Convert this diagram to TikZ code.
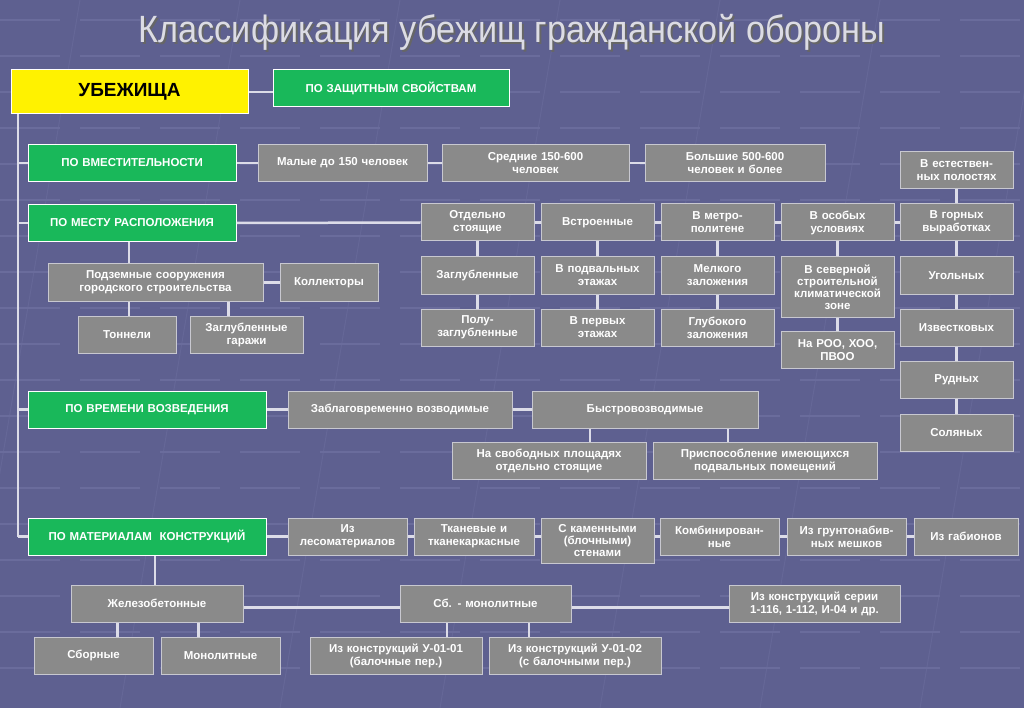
\documentclass[tikz,border=0pt]{standalone}
\usepackage{fontspec}
\setmainfont{Liberation Sans}
\definecolor{bgc}{HTML}{5E6090}
\definecolor{gridc}{HTML}{6A6C9C}
\definecolor{boxg}{HTML}{8A8A8A}
\definecolor{boxb}{HTML}{C8C8D0}
\definecolor{grn}{HTML}{19B85A}
\definecolor{linec}{HTML}{DCDCE8}
\definecolor{titc}{HTML}{DCDCE4}
\tikzset{
 gbox/.style={draw=boxb,fill=boxg,line width=1pt,text=white,font=\bfseries\fontsize{11.5}{13}\selectfont,align=center,inner sep=1pt,minimum height=37pt},
 grbox/.style={gbox,draw=white,fill=grn},
 conn/.style={draw=linec,line width=2.5pt},
}
\newcommand{\bx}[6][gbox]{\node[#1,minimum width=#5pt,text width=#5pt-4pt] (#2) at (#3,#4) {#6};}
\begin{document}
\begin{tikzpicture}[x=1pt,y=-1pt]
\fill[bgc] (0,0) rectangle (1024,708);
\useasboundingbox (0,0) rectangle (1024,708);
\foreach \yy in {20,56,...,700} \draw[gridc,line width=1.5pt,dash pattern=on 60pt off 20pt] (0,\yy) -- (1024,\yy);
\foreach \xx in {80,240,...,1100} \draw[gridc,line width=1pt,opacity=.6] (\xx,0) -- (\xx-120,708);
\node[text=black!60,xscale=0.9,font=\fontsize{38}{40}\selectfont] at (514,34) {Классификация убежищ гражданской обороны};
\node[text=titc,xscale=0.9,font=\fontsize{38}{40}\selectfont] (title) at (512,32) {Классификация убежищ гражданской обороны};
% nodes
\node[draw=white,fill=yellow,line width=1pt,minimum width=237pt,minimum height=44pt,font=\bfseries\fontsize{19}{21}\selectfont] (ubez) at (129.5,92) {УБЕЖИЩА};
\bx[grbox]{zash}{391}{88}{236}{ПО ЗАЩИТНЫМ СВОЙСТВАМ}
\bx[grbox]{vmest}{132}{163}{208}{ПО ВМЕСТИТЕЛЬНОСТИ}
\bx{maly}{342.5}{163}{169}{Малые до 150 человек}
\bx{sred}{535.5}{163}{187}{Средние 150-600\\человек}
\bx{bolsh}{735}{163}{180}{Большие 500-600\\человек и более}
\bx{estest}{956.5}{170.5}{113}{В естествен-\\ных полостях}
\bx[grbox]{mesto}{132}{223}{208}{ПО МЕСТУ РАСПОЛОЖЕНИЯ}
\bx{otd}{477.5}{222.5}{113}{Отдельно\\стоящие}
\bx{vstr}{597.5}{222.5}{113}{Встроенные}
\bx{metro}{717.5}{222.5}{113}{В метро-\\политене}
\bx{osob}{837.5}{222.5}{113}{В особых\\условиях}
\bx{gorn}{956.5}{222.5}{113}{В горных\\выработках}
\bx{zagl}{477.5}{275.5}{113}{Заглубленные}
\bx{podval}{597.5}{275.5}{113}{В подвальных\\этажах}
\bx{melk}{717.5}{275.5}{113}{Мелкого\\заложения}
\node[gbox,minimum width=113pt,text width=111pt,minimum height=60pt,font=\bfseries\fontsize{11.5}{12}\selectfont] (sever) at (837.5,287) {В северной\\строительной\\климатической\\зоне};
\bx{ugol}{956.5}{275.5}{113}{Угольных}
\bx{polu}{477.5}{327.5}{113}{Полу-\\заглубленные}
\bx{perv}{597.5}{327.5}{113}{В первых\\этажах}
\bx{glub}{717.5}{327.5}{113}{Глубокого\\заложения}
\bx{izv}{956.5}{327.5}{113}{Известковых}
\bx{naroo}{837.5}{350}{113}{На РОО, ХОО,\\ПВОО}
\bx{rudn}{956.5}{379.5}{113}{Рудных}
\bx{solyan}{956.5}{432.5}{113}{Соляных}
\bx{podzem}{155.5}{282.5}{215}{Подземные сооружения\\городского строительства}
\bx{koll}{329}{282.5}{98}{Коллекторы}
\bx{tonn}{127}{334.5}{98}{Тоннели}
\bx{garazh}{246.5}{334.5}{113}{Заглубленные\\гаражи}
\bx[grbox]{vremya}{147}{409.5}{238}{ПО ВРЕМЕНИ ВОЗВЕДЕНИЯ}
\bx{zablag}{400}{409.5}{224}{Заблаговременно возводимые}
\bx{bystro}{645}{409.5}{226}{Быстровозводимые}
\bx{svob}{549}{460.5}{194}{На свободных площадях\\отдельно стоящие}
\bx{prisp}{765}{460.5}{224}{Приспособление имеющихся\\подвальных помещений}
\bx[grbox]{mater}{147}{536.5}{238}{ПО МАТЕРИАЛАМ\ \ КОНСТРУКЦИЙ}
\bx{lesom}{347.5}{536.5}{119}{Из\\лесоматериалов}
\bx{tkan}{474}{536.5}{120}{Тканевые и\\тканекаркасные}
\node[gbox,minimum width=113pt,text width=111pt,minimum height=45pt,font=\bfseries\fontsize{11.5}{12}\selectfont] (kamen) at (597.5,540.5) {С каменными\\(блочными)\\стенами};
\bx{komb}{719.5}{536.5}{119}{Комбинирован-\\ные}
\bx{grunt}{846.5}{536.5}{119}{Из грунтонабив-\\ных мешков}
\bx{gabion}{966}{536.5}{104}{Из габионов}
\bx{zhel}{157}{603.5}{172}{Железобетонные}
\bx{sbmon}{485.5}{603.5}{171}{Сб. - монолитные}
\bx{seriya}{814.5}{603.5}{171}{Из конструкций серии\\1-116, 1-112, И-04 и др.}
\bx{sborn}{93.5}{655.5}{119}{Сборные}
\bx{monol}{220.5}{655.5}{119}{Монолитные}
\bx{uA}{396}{655.5}{172}{Из конструкций У-01-01\\(балочные пер.)}
\bx{uB}{575}{655.5}{172}{Из конструкций У-01-02\\(с балочными пер.)}
% connectors
\coordinate (trunk) at (18,114);
\draw[conn] (ubez.east) -- (ubez.east -| zash.west);
\draw[conn] (trunk) -- (trunk |- mater.west);
\foreach \n in {vmest,mesto,vremya,mater} \draw[conn] (trunk |- \n.west) -- (\n.west);
\draw[conn] (vmest) -- (maly) (maly) -- (sred) (sred) -- (bolsh);
\draw[conn] (mesto.east) -- (otd.west);
\draw[conn] (otd) -- (vstr) (vstr) -- (metro) (metro) -- (osob) (osob) -- (gorn);
\draw[conn] (estest) -- (gorn) (gorn) -- (ugol) (ugol) -- (izv) (izv) -- (rudn) (rudn) -- (solyan);
\draw[conn] (osob) -- (sever) (sever) -- (naroo);
\draw[conn] (otd) -- (zagl) (zagl) -- (polu) (vstr) -- (podval) (podval) -- (perv) (metro) -- (melk) (melk) -- (glub);
\draw[conn] ([xshift=-3pt]mesto.south) -- ([xshift=-3pt]mesto.south |- podzem.north);
\draw[conn] (podzem) -- (koll);
\draw[conn] ([xshift=2pt]tonn.north |- podzem.south) -- ([xshift=2pt]tonn.north);
\draw[conn] ([xshift=-18pt]garazh.north |- podzem.south) -- ([xshift=-18pt]garazh.north);
\draw[conn] (vremya) -- (zablag) (zablag) -- (bystro);
\draw[conn] ([xshift=41pt]svob.north |- bystro.south) -- ([xshift=41pt]svob.north);
\draw[conn] ([xshift=-37pt]prisp.north |- bystro.south) -- ([xshift=-37pt]prisp.north);
\draw[conn] (mater) -- (lesom) (lesom) -- (tkan) (tkan.east) -- (tkan.east -| kamen.west) (kamen.east |- komb.west) -- (komb.west) (komb) -- (grunt) (grunt) -- (gabion);
\draw[conn] ([xshift=-2pt]zhel.north |- mater.south) -- ([xshift=-2pt]zhel.north);
\draw[conn] ([yshift=-4pt]zhel.east) -- ([yshift=-4pt]zhel.east -| sbmon.west) ([yshift=-4pt]sbmon.east) -- ([yshift=-4pt]sbmon.east -| seriya.west);
\draw[conn] ([xshift=24pt]sborn.north |- zhel.south) -- ([xshift=24pt]sborn.north);
\draw[conn] ([xshift=-22pt]monol.north |- zhel.south) -- ([xshift=-22pt]monol.north);
\draw[conn] ([xshift=51pt]uA.north |- sbmon.south) -- ([xshift=51pt]uA.north);
\draw[conn] ([xshift=-46pt]uB.north |- sbmon.south) -- ([xshift=-46pt]uB.north);
\end{tikzpicture}
\end{document}
